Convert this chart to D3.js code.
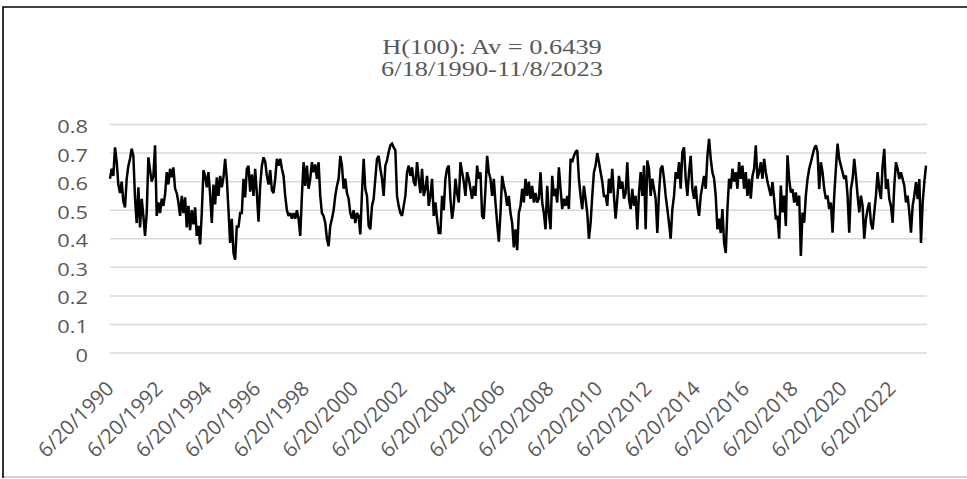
<!DOCTYPE html>
<html>
<head>
<meta charset="utf-8">
<script src="https://cdn.jsdelivr.net/npm/d3@7"></script>
<style>
  body { margin: 0; background: #fff; }
  svg { display: block; }
</style>
</head>
<body>
<script>
"use strict";

// H(100) values, evenly spaced between first and last date
const hPart1 = [0.61,0.645,0.62,0.72,0.67,0.59,0.56,0.60,0.53,0.51,0.61,0.655,0.68,0.715,0.69,0.54,0.455,0.58,0.44,0.54,
  0.48,0.41,0.49,0.685,0.64,0.60,0.62,0.727,0.48,0.527,0.49,0.54,0.515,0.555,0.633,0.59,0.645,0.615,0.65,0.575,
  0.56,0.527,0.48,0.55,0.49,0.545,0.44,0.515,0.43,0.50,0.45,0.51,0.41,0.445,0.38,0.49,0.64,0.62,0.58,0.633,
  0.555,0.455,0.59,0.52,0.615,0.55,0.62,0.58,0.615,0.68,0.61,0.50,0.385,0.47,0.35,0.327,0.445,0.44,0.49,0.49,
  0.61,0.545,0.645,0.655,0.565,0.625,0.55,0.645,0.56,0.46,0.585,0.655,0.685,0.67,0.62,0.59,0.64,0.57,0.56];
const hPart2 = [0.61,0.68,0.656,0.68,0.645,0.62,0.55,0.50,0.48,0.49,0.47,0.49,0.47,0.50,0.47,0.41,0.55,0.668,0.585,0.656,
  0.575,0.61,0.668,0.633,0.66,0.61,0.668,0.55,0.49,0.48,0.455,0.40,0.374,0.445,0.47,0.50,0.55,0.585,0.61,0.69,
  0.656,0.575,0.61,0.56,0.54,0.49,0.47,0.50,0.455,0.49,0.48,0.415,0.56,0.68,0.575,0.55,0.445,0.433,0.515,0.54,
  0.61,0.68,0.69,0.645,0.61,0.55,0.656,0.674,0.704,0.727,0.733,0.72,0.71,0.55,0.515,0.49,0.48,0.515,0.55,0.633,
  0.656,0.62,0.65,0.60,0.585,0.668,0.61,0.56,0.645,0.55,0.575,0.62,0.515,0.55,0.61,0.48,0.527,0.47,0.42];
const hPart3 = [0.42,0.55,0.50,0.61,0.645,0.656,0.54,0.47,0.515,0.61,0.56,0.527,0.668,0.633,0.60,0.55,0.633,0.61,0.575,0.54,
  0.585,0.55,0.656,0.61,0.633,0.48,0.47,0.575,0.69,0.633,0.61,0.55,0.61,0.527,0.455,0.39,0.49,0.62,0.585,0.56,
  0.515,0.55,0.49,0.455,0.37,0.433,0.36,0.49,0.515,0.575,0.527,0.61,0.55,0.60,0.54,0.585,0.527,0.56,0.527,0.54,
  0.633,0.527,0.49,0.433,0.585,0.49,0.433,0.62,0.55,0.575,0.527,0.65,0.575,0.504,0.54,0.515,0.55,0.504,0.68,0.668,
  0.69,0.704,0.71,0.61,0.55,0.504,0.585,0.54,0.49,0.40,0.455,0.55,0.633,0.656,0.70,0.668,0.633,0.60,0.55];
const hPart4 = [0.55,0.515,0.61,0.56,0.645,0.55,0.47,0.54,0.62,0.575,0.60,0.54,0.56,0.668,0.54,0.504,0.575,0.515,0.55,0.433,
  0.56,0.633,0.55,0.656,0.433,0.674,0.645,0.55,0.61,0.575,0.54,0.42,0.56,0.645,0.656,0.61,0.55,0.504,0.455,0.40,
  0.504,0.55,0.633,0.61,0.668,0.575,0.704,0.72,0.61,0.55,0.633,0.69,0.575,0.54,0.585,0.515,0.48,0.55,0.585,0.62,
  0.575,0.69,0.75,0.68,0.633,0.61,0.55,0.433,0.47,0.42,0.504,0.386,0.35,0.504,0.61,0.575,0.645,0.60,0.633,0.575,
  0.668,0.61,0.656,0.575,0.633,0.55,0.61,0.54,0.62,0.645,0.727,0.61,0.633,0.668,0.61,0.68,0.633,0.60,0.575];
const hPart5 = [0.55,0.598,0.539,0.468,0.48,0.40,0.586,0.492,0.551,0.445,0.692,0.609,0.562,0.574,0.527,0.562,0.515,0.551,0.34,0.492,
  0.456,0.551,0.609,0.645,0.668,0.692,0.715,0.727,0.704,0.574,0.668,0.633,0.574,0.539,0.551,0.504,0.527,0.421,0.551,0.645,
  0.733,0.68,0.656,0.633,0.609,0.621,0.551,0.421,0.574,0.609,0.68,0.621,0.551,0.492,0.551,0.515,0.40,0.468,0.504,0.527,
  0.456,0.433,0.492,0.551,0.633,0.574,0.539,0.656,0.715,0.574,0.609,0.539,0.515,0.456,0.586,0.668,0.645,0.609,0.633,0.609,
  0.586,0.527,0.551,0.492,0.421,0.515,0.551,0.598,0.539,0.609,0.385,0.527,0.598,0.656];

const hValues = [].concat(hPart1, hPart2, hPart3, hPart4, hPart5);

const firstDate = new Date(1990, 5, 18);
const lastDate = new Date(2023, 10, 8);
const tickYears = [1990, 1992, 1994, 1996, 1998, 2000, 2002, 2004, 2006, 2008, 2010, 2012, 2014, 2016, 2018, 2020, 2022];
const yTicks = [0, 0.1, 0.2, 0.3, 0.4, 0.5, 0.6, 0.7, 0.8];
const titleLines = ["H(100): Av = 0.6439", "6/18/1990-11/8/2023"];

const W = 967, H = 479;
const plot = {left: 110, right: 926, top: 124.5, bottom: 353};
const stretch = 1.15; // picture text looks widened

const svg = d3.select("body").append("svg")
    .attr("width", W)
    .attr("height", H);

// outer frame: black top and left, grey bottom
svg.append("line")
    .attr("x1", 3).attr("x2", W).attr("y1", 477).attr("y2", 477)
    .attr("stroke", "#d0d0d0").attr("stroke-width", 2);
svg.append("path")
    .attr("d", "M3,478V7H" + W)
    .attr("fill", "none")
    .attr("stroke", "#000")
    .attr("stroke-width", 1.6);

// scales
const xScale = d3.scaleTime()
    .domain([firstDate, lastDate])
    .range([plot.left, plot.right]);
const yScale = d3.scaleLinear()
    .domain([0, 0.8])
    .range([plot.bottom, plot.top]);
const idxToDate = d3.scaleLinear()
    .domain([0, hValues.length - 1])
    .range([firstDate.getTime(), lastDate.getTime()]);

// gridlines
svg.append("g").selectAll("line").data(yTicks).enter()
    .append("line")
    .attr("x1", plot.left).attr("x2", plot.right + 1)
    .attr("y1", d => yScale(d)).attr("y2", d => yScale(d))
    .attr("stroke", "#d9d9d9")
    .attr("stroke-width", 1.5);

// y labels
const fmtY = d => d === 0 ? "0" : d3.format(".1f")(d);
svg.append("g").selectAll("text").data(yTicks).enter()
    .append("text")
    .attr("transform", d => "translate(88," + yScale(d) + ") scale(" + stretch + ",1)")
    .attr("dy", "0.45em")
    .attr("text-anchor", "end")
    .style("font-family", "'Open Sans', sans-serif")
    .style("font-size", "19px")
    .attr("fill", "#595959")
    .text(fmtY);

// x labels, rotated
svg.append("g").selectAll("text").data(tickYears).enter()
    .append("text")
    .attr("transform", d => "translate(" + (xScale(new Date(d, 5, 20)) + 5) + ",390) rotate(-45)")
    .attr("text-anchor", "end")
    .style("font-family", "'Open Sans', sans-serif")
    .style("font-size", "20.5px")
    .attr("fill", "#595959")
    .text(d => "6/20/" + d);

// series
const line = d3.line()
    .x((d, i) => xScale(new Date(idxToDate(i))))
    .y(d => yScale(d));
svg.append("path")
    .datum(hValues)
    .attr("d", line)
    .attr("fill", "none")
    .attr("stroke", "#000")
    .attr("stroke-width", 2.5)
    .attr("stroke-linejoin", "miter")
    .attr("stroke-miterlimit", 2);

// title
svg.append("g").selectAll("text").data(titleLines).enter()
    .append("text")
    .attr("transform", (d, i) => "translate(492," + (54 + i * 22) + ") scale(1.2,1)")
    .attr("text-anchor", "middle")
    .style("font-family", "'Liberation Serif', 'Times New Roman', serif")
    .style("font-size", "22px")
    .attr("fill", "#595959")
    .text(d => d);
</script>
</body>
</html>
